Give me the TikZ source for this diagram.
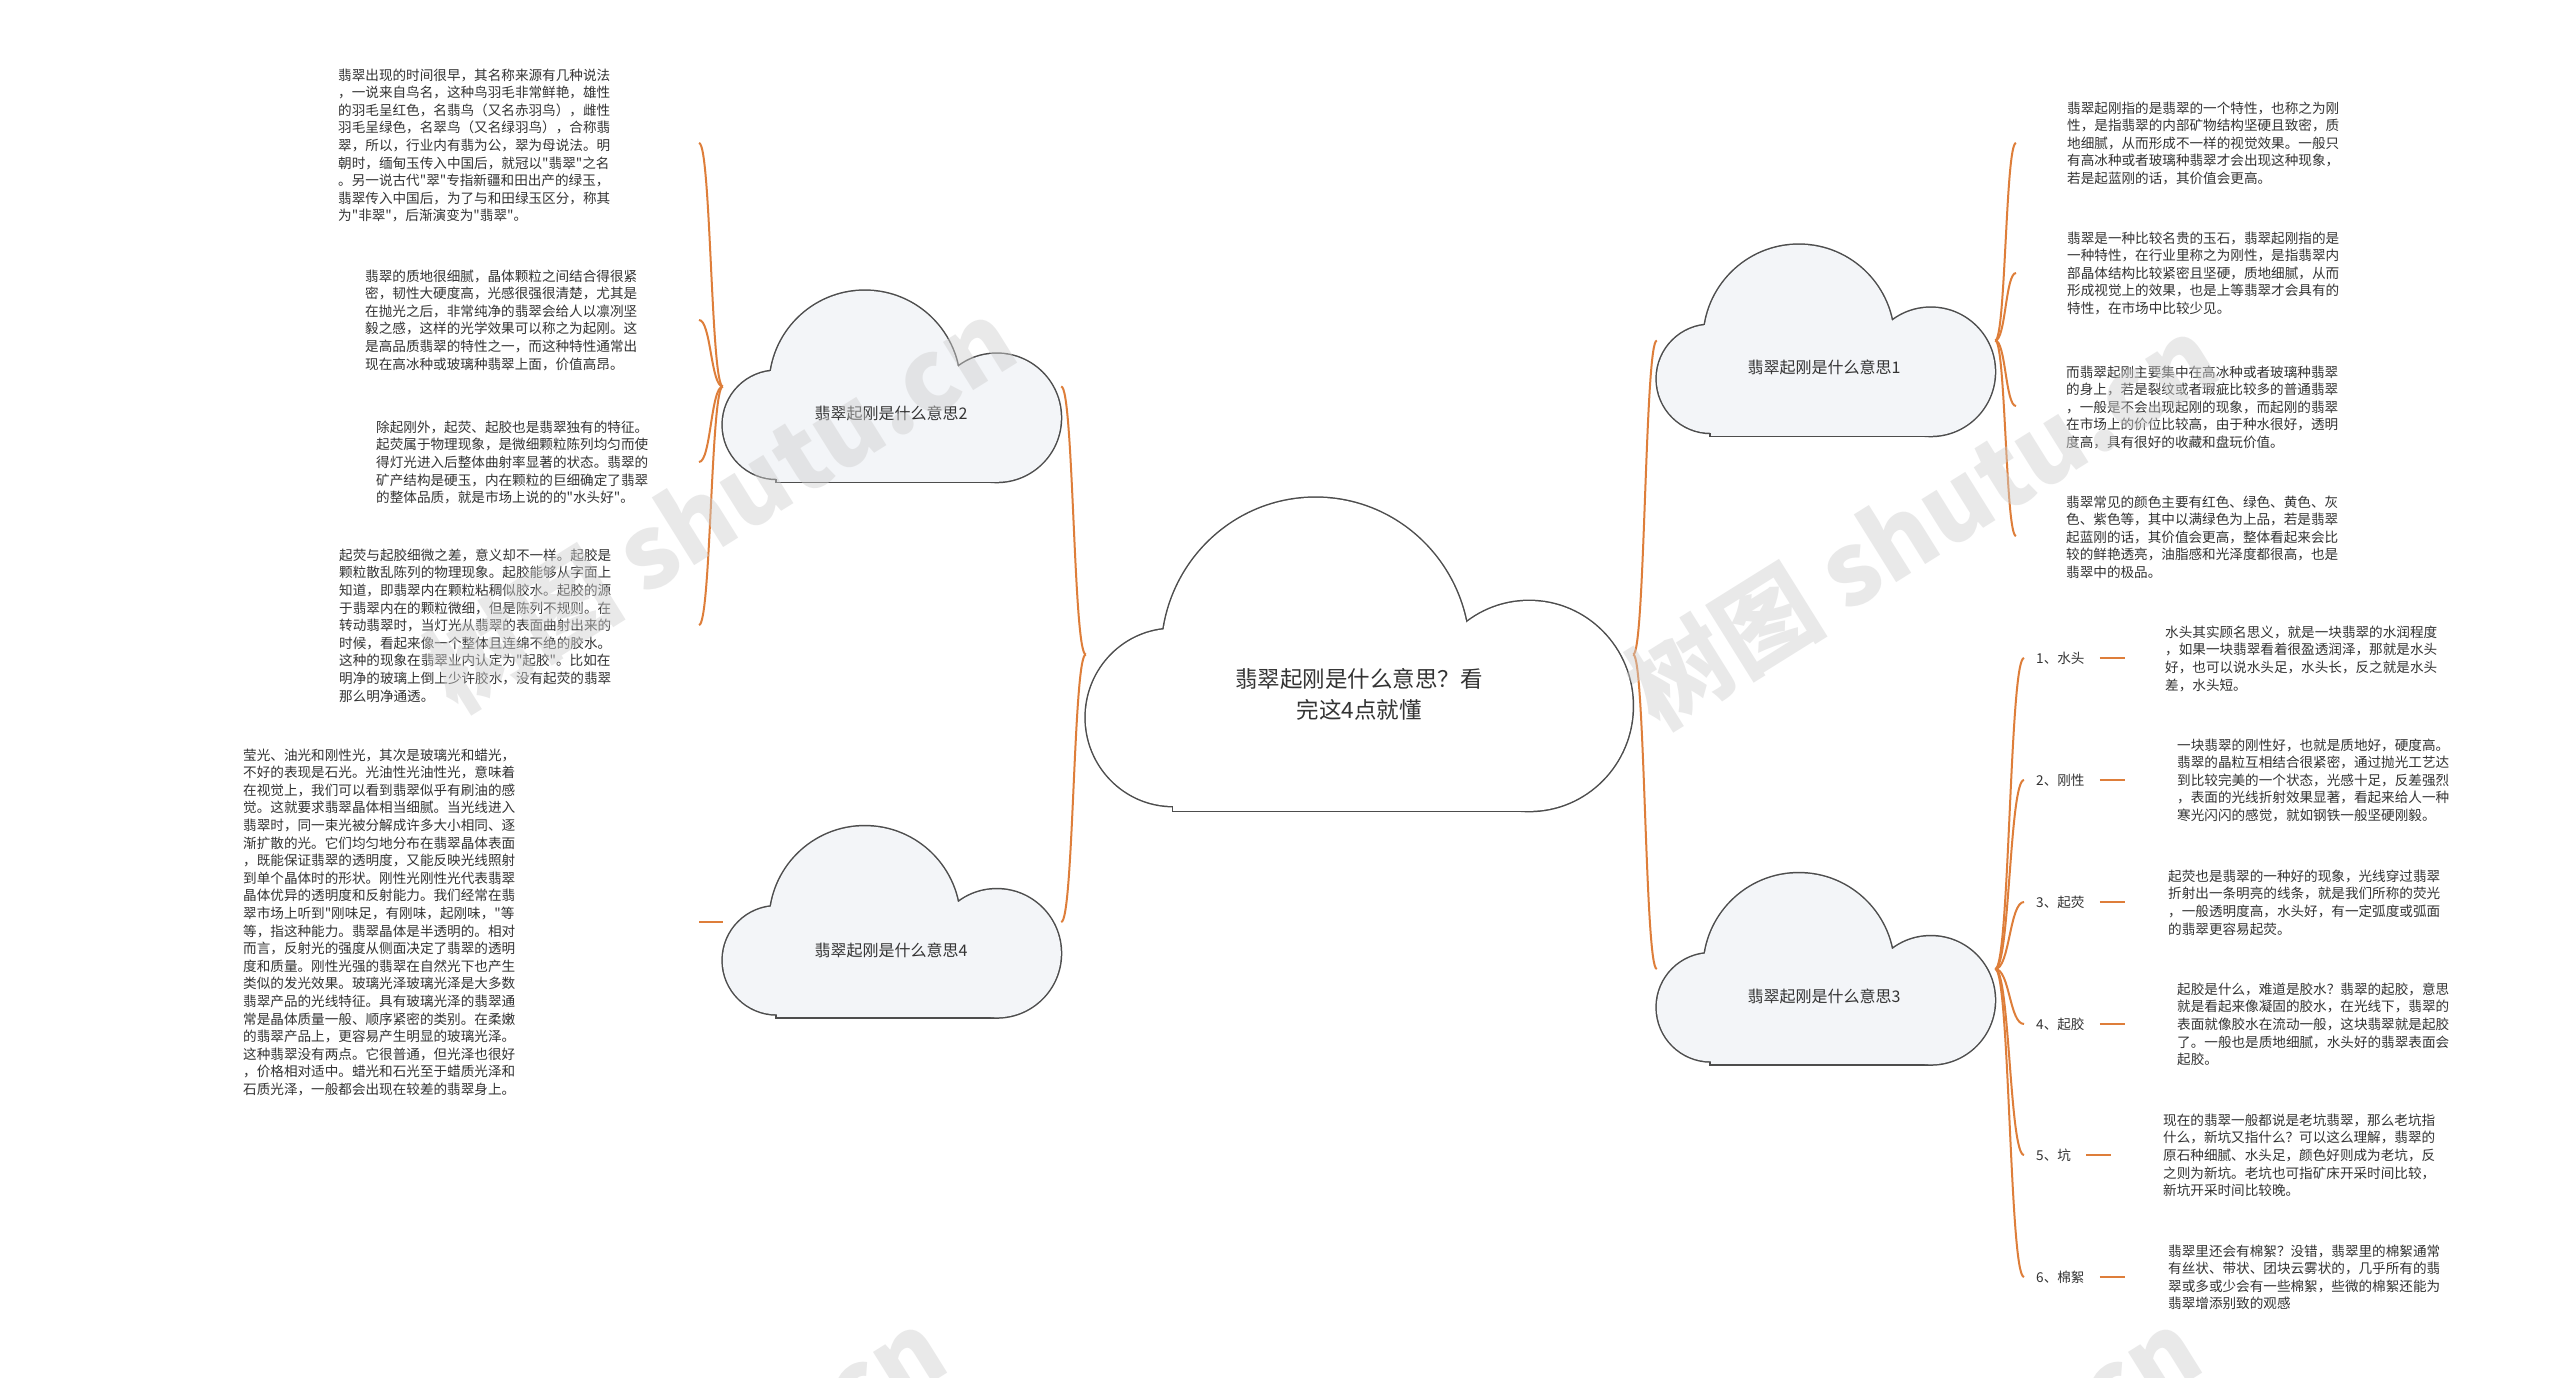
\documentclass[tikz,border=0pt]{standalone}
\usepackage{fontspec}
\setmainfont{Noto Sans CJK SC}
\newfontfamily\cjkf{Noto Sans CJK SC}
\usetikzlibrary{calc}
\pgfdeclarelayer{bg}\pgfdeclarelayer{lines}\pgfdeclarelayer{clouds}\pgfdeclarelayer{wmark}
\pgfsetlayers{bg,lines,clouds,main,wmark}
\definecolor{connc}{HTML}{DE7E3A}
\definecolor{txtc}{HTML}{333333}
\definecolor{cloudline}{HTML}{4D4D4D}
\definecolor{cloudfill}{HTML}{F3F5F8}
\definecolor{wmc}{HTML}{CFCFCF}
\tikzset{
  body/.style={anchor=north west, inner sep=0pt, align=left, font=\cjkf\fontsize{13.6}{17.6}\selectfont, text=txtc},
  lab/.style={anchor=west, inner sep=0pt, font=\cjkf\fontsize{13.6}{17.6}\selectfont, text=txtc},
  cloudbox/.style={draw=none, inner sep=0pt, minimum width=338pt, minimum height=191pt},
  cloudtext/.style={inner sep=0pt, font=\cjkf\fontsize{16}{20}\selectfont, text=txtc},
  link/.style={draw=connc, line width=2pt},
  wtext/.style={text=wmc, opacity=0.45, font=\cjkf\fontsize{100}{110}\selectfont\bfseries, rotate=32}
}
\newcommand\cloudparts[1]{%
  \path[#1] (54,134) circle[radius=54];
  \path[#1] (142,95) circle[radius=95];
  \path[#1] (274,127) circle[radius=64];
  \path[#1] (54,100) rectangle (274,191);}
\newcommand\drawcloud[4]{% anchor, xscale, yscale, fill
  \begin{scope}[shift={(#1)}, xscale=#2, yscale=#3]
    \cloudparts{draw=cloudline, line width=3pt}
    \cloudparts{fill=#4}
  \end{scope}}
\begin{document}
\begin{tikzpicture}[x=1pt,y=-1pt]
\useasboundingbox (0,0) rectangle (2560,1378);
\begin{pgfonlayer}{bg}
\fill[white] (0,0) rectangle (2560,1378);
\end{pgfonlayer}

% cloud nodes
\node[cloudbox, minimum width=547pt, minimum height=313pt] (c0) at (1359.5,654.5) {};
\node[cloudbox] (c2) at (892,386.5) {};
\node[cloudbox] (c4) at (892,922) {};
\node[cloudbox] (c1) at (1826,340.5) {};
\node[cloudbox] (c3) at (1826,969) {};

\node[cloudtext, font=\cjkf\fontsize{22.5}{31}\selectfont, align=center] (c0t) at (1359,694) {翡翠起刚是什么意思？看\\完这4点就懂};
\node[cloudtext] (c2t) at (891,413) {翡翠起刚是什么意思2};
\node[cloudtext] (c4t) at (891,950) {翡翠起刚是什么意思4};
\node[cloudtext] (c1t) at (1824,367) {翡翠起刚是什么意思1};
\node[cloudtext] (c3t) at (1824,996) {翡翠起刚是什么意思3};

% left text blocks
\node[body] (l1) at (338,68.5) {翡翠出现的时间很早，其名称来源有几种说法\\，一说来自鸟名，这种鸟羽毛非常鲜艳，雄性\\的羽毛呈红色，名翡鸟（又名赤羽鸟），雌性\\羽毛呈绿色，名翠鸟（又名绿羽鸟），合称翡\\翠，所以，行业内有翡为公，翠为母说法。明\\朝时，缅甸玉传入中国后，就冠以"翡翠"之名\\。另一说古代"翠"专指新疆和田出产的绿玉，\\翡翠传入中国后，为了与和田绿玉区分，称其\\为"非翠"，后渐演变为"翡翠"。};
\node[body] (l2) at (365,269.5) {翡翠的质地很细腻，晶体颗粒之间结合得很紧\\密，韧性大硬度高，光感很强很清楚，尤其是\\在抛光之后，非常纯净的翡翠会给人以凛冽坚\\毅之感，这样的光学效果可以称之为起刚。这\\是高品质翡翠的特性之一，而这种特性通常出\\现在高冰种或玻璃种翡翠上面，价值高昂。};
\node[body] (l3) at (376,420.5) {除起刚外，起荧、起胶也是翡翠独有的特征。\\起荧属于物理现象，是微细颗粒陈列均匀而使\\得灯光进入后整体曲射率显著的状态。翡翠的\\矿产结构是硬玉，内在颗粒的巨细确定了翡翠\\的整体品质，就是市场上说的的"水头好"。};
\node[body] (l4) at (339,548.5) {起荧与起胶细微之差，意义却不一样。起胶是\\颗粒散乱陈列的物理现象。起胶能够从字面上\\知道，即翡翠内在颗粒粘稠似胶水。起胶的源\\于翡翠内在的颗粒微细，但是陈列不规则。在\\转动翡翠时，当灯光从翡翠的表面曲射出来的\\时候，看起来像一个整体且连绵不绝的胶水。\\这种的现象在翡翠业内认定为"起胶"。比如在\\明净的玻璃上倒上少许胶水，没有起荧的翡翠\\那么明净通透。};
\node[body] (l5) at (243,748.5) {莹光、油光和刚性光，其次是玻璃光和蜡光，\\不好的表现是石光。光油性光油性光，意味着\\在视觉上，我们可以看到翡翠似乎有刷油的感\\觉。这就要求翡翠晶体相当细腻。当光线进入\\翡翠时，同一束光被分解成许多大小相同、逐\\渐扩散的光。它们均匀地分布在翡翠晶体表面\\，既能保证翡翠的透明度，又能反映光线照射\\到单个晶体时的形状。刚性光刚性光代表翡翠\\晶体优异的透明度和反射能力。我们经常在翡\\翠市场上听到"刚味足，有刚味，起刚味，"等\\等，指这种能力。翡翠晶体是半透明的。相对\\而言，反射光的强度从侧面决定了翡翠的透明\\度和质量。刚性光强的翡翠在自然光下也产生\\类似的发光效果。玻璃光泽玻璃光泽是大多数\\翡翠产品的光线特征。具有玻璃光泽的翡翠通\\常是晶体质量一般、顺序紧密的类别。在柔嫩\\的翡翠产品上，更容易产生明显的玻璃光泽。\\这种翡翠没有两点。它很普通，但光泽也很好\\，价格相对适中。蜡光和石光至于蜡质光泽和\\石质光泽，一般都会出现在较差的翡翠身上。};

% right text blocks
\node[body] (r1) at (2067,101.5) {翡翠起刚指的是翡翠的一个特性，也称之为刚\\性，是指翡翠的内部矿物结构坚硬且致密，质\\地细腻，从而形成不一样的视觉效果。一般只\\有高冰种或者玻璃种翡翠才会出现这种现象，\\若是起蓝刚的话，其价值会更高。};
\node[body] (r2) at (2067,231.5) {翡翠是一种比较名贵的玉石，翡翠起刚指的是\\一种特性，在行业里称之为刚性，是指翡翠内\\部晶体结构比较紧密且坚硬，质地细腻，从而\\形成视觉上的效果，也是上等翡翠才会具有的\\特性，在市场中比较少见。};
\node[body] (r3) at (2066,365.5) {而翡翠起刚主要集中在高冰种或者玻璃种翡翠\\的身上，若是裂纹或者瑕疵比较多的普通翡翠\\，一般是不会出现起刚的现象，而起刚的翡翠\\在市场上的价位比较高，由于种水很好，透明\\度高，具有很好的收藏和盘玩价值。};
\node[body] (r4) at (2066,495.5) {翡翠常见的颜色主要有红色、绿色、黄色、灰\\色、紫色等，其中以满绿色为上品，若是翡翠\\起蓝刚的话，其价值会更高，整体看起来会比\\较的鲜艳透亮，油脂感和光泽度都很高，也是\\翡翠中的极品。};

% numbered labels
\node[lab] (n1) at (2036,658) {1、水头};
\node[lab] (n2) at (2036,780) {2、刚性};
\node[lab] (n3) at (2036,902) {3、起荧};
\node[lab] (n4) at (2036,1024) {4、起胶};
\node[lab] (n5) at (2036,1155) {5、坑};
\node[lab] (n6) at (2036,1277) {6、棉絮};

\node[body] (t1) at (2165,625.5) {水头其实顾名思义，就是一块翡翠的水润程度\\，如果一块翡翠看着很盈透润泽，那就是水头\\好，也可以说水头足，水头长，反之就是水头\\差，水头短。};
\node[body] (t2) at (2177,738.5) {一块翡翠的刚性好，也就是质地好，硬度高。\\翡翠的晶粒互相结合很紧密，通过抛光工艺达\\到比较完美的一个状态，光感十足，反差强烈\\，表面的光线折射效果显著，看起来给人一种\\寒光闪闪的感觉，就如钢铁一般坚硬刚毅。};
\node[body] (t3) at (2168,869.5) {起荧也是翡翠的一种好的现象，光线穿过翡翠\\折射出一条明亮的线条，就是我们所称的荧光\\，一般透明度高，水头好，有一定弧度或弧面\\的翡翠更容易起荧。};
\node[body] (t4) at (2177,982.5) {起胶是什么，难道是胶水？翡翠的起胶，意思\\就是看起来像凝固的胶水，在光线下，翡翠的\\表面就像胶水在流动一般，这块翡翠就是起胶\\了。一般也是质地细腻，水头好的翡翠表面会\\起胶。};
\node[body] (t5) at (2163,1113.5) {现在的翡翠一般都说是老坑翡翠，那么老坑指\\什么，新坑又指什么？可以这么理解，翡翠的\\原石种细腻、水头足，颜色好则成为老坑，反\\之则为新坑。老坑也可指矿床开采时间比较，\\新坑开采时间比较晚。};
\node[body] (t6) at (2168,1244.5) {翡翠里还会有棉絮？没错，翡翠里的棉絮通常\\有丝状、带状、团块云雾状的，几乎所有的翡\\翠或多或少会有一些棉絮，些微的棉絮还能为\\翡翠增添别致的观感};

% connector end coordinates
\coordinate (l1e) at (699,143);
\coordinate (l2e) at (699,320);
\coordinate (l3e) at (699,462);
\coordinate (l4e) at (699,625);
\coordinate (l5e) at (699,922);
\coordinate (r1e) at (2016,143);
\coordinate (r2e) at (2016,273);
\coordinate (r3e) at (2016,406);
\coordinate (r4e) at (2016,536);
\foreach \i in {1,...,6}{
  \coordinate (n\i w) at ($(n\i.west)+(-12,0)$);
  \coordinate (d\i a) at ($(n\i.east)+(15,0)$);
  \coordinate (d\i b) at ($(n\i.east)+(40,0)$);
}

\begin{pgfonlayer}{lines}
\draw[link] (c0.west) .. controls +(-12.5,0) and +(12.5,0) .. (c2.east);
\draw[link] (c0.west) .. controls +(-12.5,0) and +(12.5,0) .. (c4.east);
\draw[link] (c0.east) .. controls +(12,0) and +(-12,0) .. (c1.west);
\draw[link] (c0.east) .. controls +(12,0) and +(-12,0) .. (c3.west);
\foreach \t in {l1e,l2e,l3e,l4e}
  \draw[link] (c2.west) .. controls +(-12,0) and +(12,0) .. (\t);
\draw[link] (c4.west) -- (l5e);
\foreach \t in {r1e,r2e,r3e,r4e}
  \draw[link] (c1.east) .. controls +(10.5,0) and +(-10.5,0) .. (\t);
\foreach \i in {1,...,6}{
  \draw[link] (c3.east) .. controls +(14.5,0) and +(-14.5,0) .. (n\i w);
  \draw[link] (d\i a) -- (d\i b);
}
\end{pgfonlayer}

\begin{pgfonlayer}{clouds}
\drawcloud{c0.north west}{1.618}{1.639}{white}
\drawcloud{c2.north west}{1}{1}{cloudfill}
\drawcloud{c4.north west}{1}{1}{cloudfill}
\drawcloud{c1.north west}{1}{1}{cloudfill}
\drawcloud{c3.north west}{1}{1}{cloudfill}
\end{pgfonlayer}

\begin{pgfonlayer}{wmark}
\node[wtext] (w1) at (720,505) {树图 shutu.cn};
\node[wtext] (w2) at (1922,522) {树图 shutu.cn};
\node[wtext] (w3) at (650,1515) {树图 shutu.cn};
\node[wtext] (w4) at (1905,1515) {树图 shutu.cn};
\end{pgfonlayer}
\end{tikzpicture}
\end{document}
